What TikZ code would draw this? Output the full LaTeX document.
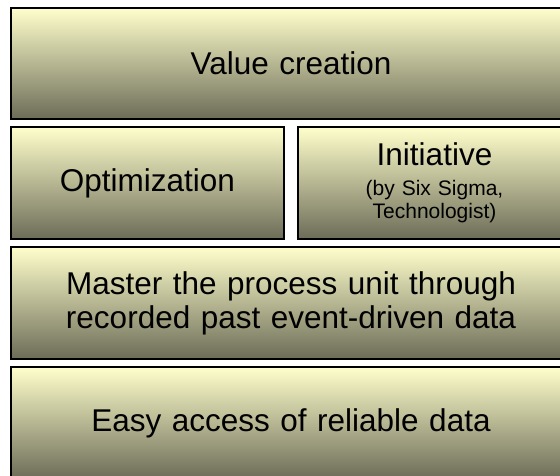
\documentclass[tikz,border=0pt]{standalone}
\usepackage{fontspec}
\setmainfont{Liberation Sans}
\definecolor{gtop}{RGB}{255,255,204}
\definecolor{gbot}{RGB}{108,108,88}
\tikzset{
  layerbox/.style={draw=black, line width=2pt, top color=gtop, bottom color=gbot,
    anchor=north west, inner sep=0pt, align=center,
    font=\fontsize{31.5}{34}\selectfont},
}
\begin{document}
\begin{tikzpicture}[x=1pt,y=-1pt]
\useasboundingbox (0,0) rectangle (560,475);
\fill[white] (0,0) rectangle (560,475);
\clip (0,0) rectangle (560,475);
\node[layerbox, minimum width=560pt, minimum height=111pt, text width=540pt] (value) at (10,7) {Value creation};
\node[layerbox, minimum width=273pt, minimum height=112pt, text width=260pt] (opt) at (10,126) {Optimization};
\node[layerbox, minimum width=273pt, minimum height=112pt, text width=260pt,
  font=\fontsize{21}{23}\selectfont] (init) at (297,126) {{\fontsize{31.5}{30}\selectfont Initiative}\\[7pt](by Six Sigma,\\Technologist)};
\node[layerbox, minimum width=560pt, minimum height=112pt, text width=540pt] (master) at (10,246) {Master the process unit through\\recorded past event-driven data};
\node[layerbox, minimum width=560pt, minimum height=112pt, text width=540pt] (easy) at (10,366) {Easy access of reliable data};
\end{tikzpicture}
\end{document}
